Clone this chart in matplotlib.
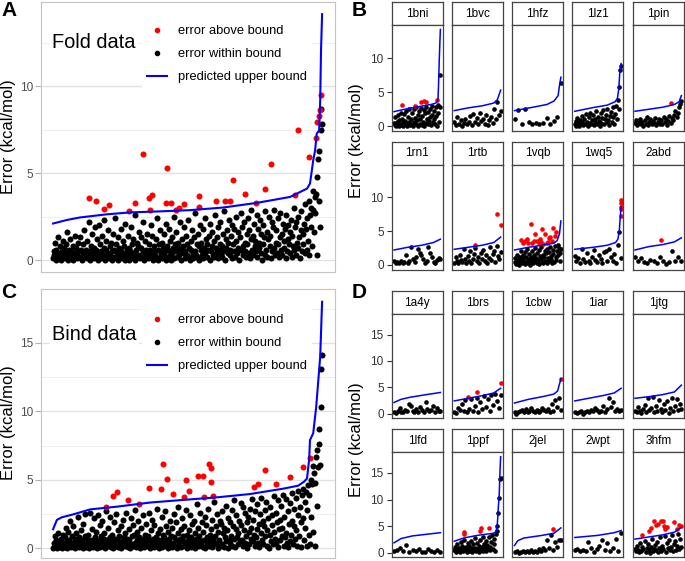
import numpy as np
import matplotlib
matplotlib.use("Agg")
import matplotlib.pyplot as plt
from matplotlib.lines import Line2D

plt.rcParams['font.family'] = ['Liberation Sans', 'DejaVu Sans']

# ---------------- data: panel A (fold data), x = rank in percent ----------------
a_black = [
    0.1, 0.5, 0.3, 1.0, 0.0, 0.6, 0.2, 1.3, 0.4, 0.1,
    0.8, 0.3, 0.0, 0.5, 1.1, 0.2, 0.7, 0.1, 0.4, 0.9,
    0.3, 1.6, 0.0, 0.2, 0.6, 1.2, 0.1, 0.5, 0.3, 0.8,
    0.0, 0.4, 1.4, 0.2, 0.7, 0.1, 0.3, 1.0, 0.5, 0.2,
    1.3, 0.1, 0.6, 0.0, 0.9, 0.3, 1.7, 0.4, 0.2, 0.6,
    0.1, 1.1, 0.3, 2.2, 0.5, 0.0, 0.8, 0.2, 1.5, 0.4,
    0.7, 0.1, 1.9, 0.3, 0.6, 1.2, 0.0, 0.4, 2.0, 0.2,
    0.9, 0.5, 0.1, 1.4, 0.3, 0.7, 2.3, 0.0, 0.6, 1.1,
    0.2, 0.4, 1.7, 0.1, 0.8, 0.3, 1.0, 0.5, 0.0, 1.5,
    0.6, 0.2, 2.4, 0.9, 0.1, 0.4, 1.3, 0.0, 0.7, 0.3,
    1.8, 0.5, 0.1, 1.1, 0.3, 0.8, 0.0, 2.1, 0.4, 0.6,
    0.2, 1.4, 0.7, 0.0, 0.5, 1.9, 0.3, 0.9, 0.1, 1.2,
    0.4, 0.0, 2.6, 0.6, 1.0, 0.2, 0.8, 1.6, 0.3, 0.1,
    0.7, 1.3, 0.2, 0.5, 2.2, 0.0, 0.4, 1.1, 0.6, 0.3,
    1.5, 0.1, 0.9, 0.3, 0.6, 2.0, 0.2, 1.4, 0.0, 0.5,
    0.8, 0.3, 1.2, 0.1, 2.4, 0.6, 0.0, 0.9, 1.7, 0.2,
    0.4, 1.0, 0.1, 0.7, 0.3, 1.5, 0.5, 2.1, 0.0, 0.8,
    0.2, 0.6, 1.8, 0.3, 1.1, 0.0, 0.4, 1.3, 0.7, 2.5,
    0.1, 0.9, 0.5, 1.6, 0.2, 0.7, 1.0, 0.3, 2.2, 0.6,
    0.0, 1.2, 0.4, 0.8, 1.9, 0.1, 0.5, 1.4, 0.3, 0.9,
    2.3, 0.2, 0.7, 0.0, 1.1, 0.6, 1.7, 0.4, 0.1, 1.3,
    0.5, 2.7, 0.3, 0.9, 0.2, 1.5, 0.8, 0.0, 2.0, 0.6,
    1.0, 0.3, 1.8, 0.1, 0.7, 2.4, 0.4, 1.2, 0.2, 0.9,
    0.6, 1.4, 0.0, 2.1, 0.5, 0.8, 1.6, 0.3, 1.1, 0.2,
    2.6, 0.7, 0.4, 1.3, 0.1, 1.9, 0.6, 0.9, 2.2, 0.3,
    0.8, 0.2, 1.5, 0.5, 2.8, 0.0, 1.2, 0.7, 1.7, 0.4,
    1.0, 2.3, 0.3, 0.6, 1.4, 0.1, 2.0, 0.9, 0.5, 1.8,
    0.2, 1.1, 2.5, 0.4, 0.7, 1.6, 0.0, 1.3, 2.7, 0.6,
    1.9, 0.3, 0.8, 2.2, 0.5, 1.0, 0.2, 1.5, 0.9, 2.4,
    0.4, 1.7, 0.1, 1.2, 2.9, 0.6, 1.4, 0.3, 2.1, 0.8,
    1.1, 0.5, 2.6, 0.2, 1.8, 0.7, 1.0, 2.3, 0.4, 1.5,
    0.0, 2.0, 0.9, 1.3, 0.3, 2.8, 0.6, 1.6, 0.2, 1.2,
    2.5, 0.8, 1.4, 0.1, 2.2, 0.5, 1.9, 0.7, 2.9, 0.3,
    1.0, 1.7, 0.4, 2.4, 0.9, 0.2, 1.3, 2.7, 0.6, 1.5,
    0.3, 2.1, 1.1, 0.7, 1.8, 0.1, 2.6, 0.5, 1.2, 2.0,
    0.9, 0.4, 1.6, 2.3, 0.2, 1.4, 0.8, 3.0, 0.6, 1.9,
    2.2, 0.3, 1.0, 0.7, 2.5, 1.3, 0.1, 1.7, 2.8, 0.5,
    1.5, 0.9, 2.1, 0.4, 3.2, 1.8, 0.6, 2.4, 1.1, 3.4,
    0.3, 2.6, 1.9, 3.0, 0.8, 2.9, 4.0, 1.6, 3.6, 2.7,
    3.8, 4.8, 0.3, 5.8, 3.4, 6.3, 1.9, 7.5, 8.7, 7.8,
]
a_red_x = [13.4, 16.0, 19.0, 20.8, 28.3, 30.5, 33.5, 35.7, 36.1, 36.8, 42.0, 42.4,
           43.9, 45.7, 46.8, 48.7, 54.3, 54.3, 60.6, 63.9, 65.8, 66.9, 71.4, 75.5,
           78.8, 81.0, 90.0, 91.1, 95.2, 97.8, 98.1, 98.9, 99.1, 99.6]
a_red_y = [3.59, 3.37, 2.93, 3.19, 2.83, 3.27, 6.08, 3.59, 2.89, 3.73, 3.27, 5.28,
           3.31, 2.87, 2.98, 3.21, 3.67, 3.06, 3.42, 3.40, 3.42, 4.63, 3.82, 3.29,
           4.11, 5.53, 3.73, 7.50, 5.93, 7.04, 7.93, 8.26, 8.64, 9.52]
a_bound_x = [0, 5, 10, 20, 28.6, 40, 50.9, 63.2, 75.8, 88.1, 94.4, 95.5, 96.2, 96.7,
             97.4, 98.0, 98.9, 99.3, 99.6, 100]
a_bound_y = [2.10, 2.30, 2.45, 2.63, 2.74, 2.80, 2.87, 3.02, 3.29, 3.63, 4.11, 4.40,
             5.16, 5.74, 6.31, 7.27, 7.46, 9.18, 12.05, 14.15]

# ---------------- data: panel C (bind data) ----------------
c_black = [
    0.0, 0.4, 0.1, 0.9, 0.2, 0.6, 0.0, 1.1, 0.3, 0.5,
    0.1, 0.7, 0.2, 0.0, 1.0, 0.4, 0.3, 0.8, 0.1, 1.5,
    0.5, 0.0, 1.2, 0.2, 0.6, 2.0, 0.3, 0.1, 0.9, 0.4,
    1.6, 0.2, 0.0, 0.7, 1.1, 0.3, 0.5, 2.3, 0.1, 0.8,
    0.4, 1.3, 0.2, 0.6, 0.0, 1.8, 0.3, 0.9, 2.5, 0.1,
    0.7, 0.3, 1.0, 0.0, 2.6, 0.5, 0.2, 1.4, 0.6, 0.1,
    2.2, 0.4, 0.8, 0.2, 1.2, 0.0, 2.4, 0.6, 0.3, 1.7,
    0.1, 0.9, 0.5, 2.0, 0.2, 0.7, 1.1, 0.0, 0.4, 2.7,
    0.6, 0.2, 1.5, 0.3, 0.8, 2.3, 0.1, 1.0, 0.5, 0.0,
    1.9, 0.4, 0.7, 0.2, 2.5, 0.6, 1.3, 0.1, 0.9, 0.3,
    0.0, 1.6, 0.5, 2.1, 0.3, 0.8, 0.2, 1.1, 2.6, 0.4,
    0.7, 0.1, 1.4, 0.6, 0.0, 2.2, 0.3, 0.9, 1.7, 0.2,
    1.0, 2.8, 0.4, 0.1, 1.2, 0.6, 2.0, 0.3, 0.8, 0.0,
    0.5, 1.5, 0.2, 2.4, 0.7, 0.1, 1.0, 0.4, 1.8, 0.6,
    0.2, 0.9, 2.6, 0.0, 0.5, 1.3, 0.3, 2.1, 0.7, 0.1,
    1.7, 0.4, 0.8, 0.2, 2.9, 0.6, 1.1, 0.0, 0.3, 1.4,
    0.6, 2.3, 0.1, 1.0, 0.4, 0.8, 2.7, 0.2, 1.6, 0.5,
    0.0, 1.2, 0.7, 0.3, 2.0, 0.9, 0.1, 1.5, 0.4, 2.5,
    0.8, 0.2, 1.9, 0.6, 0.0, 1.1, 3.0, 0.3, 0.7, 1.4,
    0.1, 2.2, 0.5, 0.9, 1.6, 0.2, 0.4, 2.8, 0.0, 1.0,
    0.6, 0.3, 1.3, 2.4, 0.1, 0.8, 1.8, 0.5, 0.2, 2.0,
    1.1, 0.0, 0.7, 0.4, 3.2, 1.5, 0.2, 0.9, 2.6, 0.3,
    0.5, 1.9, 0.1, 1.2, 0.6, 2.3, 0.0, 1.7, 0.4, 0.8,
    2.9, 0.2, 1.0, 0.5, 1.4, 0.1, 2.1, 0.7, 3.4, 0.3,
    0.9, 1.6, 0.4, 2.5, 0.0, 1.2, 0.6, 2.0, 0.2, 1.8,
    0.3, 2.7, 1.1, 0.1, 1.5, 0.8, 3.1, 0.5, 1.3, 0.0,
    2.2, 0.6, 1.9, 0.4, 0.9, 2.8, 0.2, 1.6, 0.7, 3.5,
    0.1, 1.4, 2.4, 0.8, 0.3, 1.1, 2.0, 0.5, 3.3, 1.7,
    0.6, 3.0, 0.2, 1.3, 2.6, 0.4, 0.9, 1.9, 0.0, 2.3,
    1.2, 0.3, 2.9, 0.7, 1.5, 3.6, 0.5, 2.1, 1.0, 0.2,
    2.7, 0.8, 1.4, 3.2, 0.4, 1.8, 0.1, 2.5, 1.1, 3.7,
    0.6, 2.0, 0.3, 1.6, 2.8, 0.9, 3.4, 0.2, 1.3, 2.2,
    0.0, 1.0, 3.0, 0.5, 2.4, 1.7, 0.3, 3.8, 1.2, 0.7,
    2.6, 0.4, 1.9, 0.1, 3.5, 1.4, 2.1, 0.6, 3.1, 0.9,
    1.5, 3.9, 0.2, 2.3, 0.8, 1.1, 3.6, 0.4, 2.7, 0.1,
    1.8, 0.5, 3.3, 1.0, 2.0, 4.0, 0.3, 1.6, 2.9, 0.7,
    3.7, 1.3, 0.2, 2.4, 4.2, 0.9, 3.0, 1.9, 0.1, 3.9,
    2.2, 4.3, 0.6, 3.4, 1.5, 4.1, 0.2, 2.8, 4.6, 1.0,
    3.9, 0.3, 5.0, 2.3, 4.7, 6.0, 1.2, 5.5, 0.2, 4.8,
    6.7, 3.1, 7.2, 5.9, 7.6, 8.7, 6.1, 10.3, 13.1, 14.1,
]
c_red_x = [19.7, 22.3, 23.8, 27.9, 32.0, 35.7, 40.1, 40.9, 42.4, 44.6, 48.7, 49.4,
           50.6, 53.9, 55.8, 56.1, 58.0, 58.7, 58.7, 59.5, 74.7, 76.2, 78.8, 82.9,
           88.1, 92.9, 95.5]
c_red_y = [3.04, 3.81, 4.08, 3.52, 3.24, 4.38, 4.33, 6.12, 5.03, 3.96, 3.72, 4.98,
           4.19, 5.28, 5.28, 3.72, 6.18, 5.83, 4.81, 3.80, 4.48, 4.72, 5.75, 4.66,
           5.18, 5.90, 6.56]
c_bound_x = [0, 1.4, 3.2, 7.4, 13.8, 23.8, 36.1, 48.3, 61.0, 73.2, 85.5, 91.1, 93.3,
             94.4, 95.2, 95.5, 96.7, 97.8, 99.3, 100]
c_bound_y = [1.39, 2.07, 2.26, 2.47, 2.84, 3.04, 3.34, 3.53, 3.72, 3.96, 4.35, 4.57,
             4.86, 5.10, 6.50, 7.90, 8.40, 10.30, 14.00, 18.00]

# ---------------- data: panel B facets (x = rank fraction) ----------------
b_names = ['1bni', '1bvc', '1hfz', '1lz1', '1pin', '1rn1', '1rtb', '1vqb', '1wq5', '2abd']

err_1bni = [0.5, 0.2, 1.3, 0.1, 0.7, 0.3, 1.6, 0.0, 0.9, 0.4, 2.0, 0.2, 1.1, 0.6, 0.1,
            1.8, 0.3, 0.8, 2.3, 0.5, 0.0, 1.4, 0.7, 2.6, 0.2, 1.0, 0.4, 1.9, 0.1, 2.5,
            0.6, 1.2, 0.3, 2.8, 0.9, 0.0, 1.6, 2.2, 0.4, 1.0, 2.7, 0.2, 1.5, 0.7, 2.4,
            0.1, 1.9, 0.5, 2.9, 1.1, 0.3, 2.1, 0.8, 1.4, 2.6, 0.2, 1.7, 3.0, 0.6, 2.3,
            1.0, 0.4, 2.8, 1.5, 0.1, 3.1, 2.0, 0.7, 2.9, 7.5]
red_1bni = [(0.18, 3.06), (0.45, 2.95), (0.59, 3.6), (0.64, 3.7), (0.68, 3.5), (0.93, 3.9)]
bnd_1bni = [(0, 2.15), (0.3, 2.6), (0.55, 2.9), (0.8, 3.2), (0.9, 3.4), (0.94, 3.7),
            (0.95, 4.2), (0.96, 6.0), (0.975, 9.5), (0.99, 12.5), (1.0, 14.2)]

err_1bvc = [0.6, 0.2, 1.3, 0.4, 0.9, 0.1, 0.5, 1.1, 0.3, 0.7, 1.5, 0.2, 1.8, 0.6, 1.2,
            0.3, 2.0, 0.8, 1.0, 0.4, 1.6, 0.2, 0.9, 1.3, 0.5, 2.5, 1.1, 3.6, 1.6, 2.2]
red_1bvc = []
bnd_1bvc = [(0, 2.3), (0.3, 2.7), (0.6, 3.0), (0.85, 3.4), (0.93, 3.9), (1.0, 5.3)]

err_1hfz = [1.0, 2.4, 0.3, 2.6, 0.6, 0.4, 0.5, 0.3, 0.5, 1.2, 0.3, 0.8, 1.3, 6.3]
red_1hfz = []
bnd_1hfz = [(0, 2.3), (0.4, 2.8), (0.7, 3.2), (0.85, 3.7), (0.94, 4.5), (0.97, 6.0), (1.0, 7.2)]

err_1lz1 = [0.3, 0.8, 0.1, 1.2, 0.5, 0.0, 0.9, 0.3, 1.5, 0.6, 0.2, 1.1, 0.4, 1.8, 0.7,
            0.1, 1.3, 0.5, 2.0, 0.3, 0.9, 1.6, 0.2, 1.1, 0.6, 2.2, 0.4, 1.4, 0.8, 0.1,
            1.9, 0.5, 1.2, 2.4, 0.3, 1.0, 1.7, 0.6, 2.6, 0.9, 0.2, 1.5, 2.1, 0.7, 1.3,
            2.8, 0.4, 1.8, 3.0, 1.1, 3.8, 2.6, 5.7, 8.2, 8.8]
red_1lz1 = []
bnd_1lz1 = [(0, 2.2), (0.4, 2.75), (0.7, 3.1), (0.87, 3.6), (0.92, 4.1), (0.95, 5.5),
            (0.97, 7.8), (1.0, 9.2)]

err_1pin = [0.5, 0.9, 0.2, 0.6, 1.1, 0.3, 0.7, 0.1, 0.9, 0.4, 1.3, 0.2, 0.6, 1.0, 0.3,
            0.8, 0.5, 1.2, 0.2, 0.7, 1.0, 0.4, 0.9, 0.3, 1.4, 0.6, 1.1, 0.2, 0.8, 1.5,
            0.5, 1.2, 0.9, 1.7, 2.2, 1.3, 2.0, 2.9, 3.3, 3.7]
red_1pin = [(0.77, 3.45)]
bnd_1pin = [(0, 2.2), (0.3, 2.5), (0.6, 2.8), (0.85, 3.2), (0.95, 3.6), (1.0, 4.5)]

err_1rn1 = [0.5, 0.2, 0.4, 0.3, 0.6, 0.2, 0.4, 1.5, 0.3, 0.6, 2.6, 0.9, 0.4, 1.1, 2.3,
            1.8, 1.4, 0.8, 0.3, 0.6, 2.6, 1.7, 1.2, 0.4, 0.2, 0.7, 1.0, 0.9]
red_1rn1 = []
bnd_1rn1 = [(0, 2.2), (0.3, 2.6), (0.6, 2.9), (0.85, 3.3), (1.0, 3.8)]

err_1rtb = [0.3, 1.1, 0.5, 0.2, 1.5, 0.7, 0.4, 2.4, 0.9, 0.3, 1.3, 0.6, 2.0, 0.2, 0.8,
            1.6, 2.5, 0.5, 1.1, 0.3, 1.8, 0.9, 2.2, 0.6, 1.4, 0.2, 1.0, 2.7, 0.7, 1.6,
            2.1, 0.4, 2.8, 1.3, 0.9, 1.9]
red_1rtb = [(0.45, 3.0), (0.93, 7.5), (1.0, 5.9)]
bnd_1rtb = [(0, 2.3), (0.3, 2.6), (0.6, 2.9), (0.85, 3.3), (1.0, 4.1)]

err_1vqb = [0.4, 1.0, 0.1, 0.7, 1.5, 0.3, 0.9, 0.0, 1.2, 0.5, 2.0, 0.2, 0.8, 1.4, 0.4,
            1.9, 0.1, 1.1, 0.6, 2.3, 0.3, 0.9, 1.6, 0.0, 1.2, 0.5, 2.1, 0.8, 0.2, 1.4,
            2.5, 0.6, 1.0, 0.3, 1.8, 0.7, 2.2, 0.1, 1.3, 0.9, 2.6, 0.4, 1.5, 0.2, 1.1,
            2.0, 0.6, 1.7, 0.3, 2.4, 1.0, 0.5, 1.9, 2.7, 0.8, 1.3, 0.2, 2.2, 1.6, 0.4,
            2.8, 1.2, 0.7, 2.0, 3.0, 1.5, 2.5, 0.5, 1.7, 2.3]
red_1vqb = [(0.13, 3.7), (0.18, 3.3), (0.23, 3.5), (0.27, 3.8), (0.30, 3.2), (0.35, 6.1),
            (0.38, 3.3), (0.41, 3.6), (0.45, 4.6), (0.48, 3.5), (0.52, 3.2), (0.55, 3.85),
            (0.58, 3.4), (0.60, 5.3), (0.62, 3.1), (0.66, 4.6), (0.69, 3.3), (0.73, 3.4),
            (0.74, 3.9), (0.77, 4.1), (0.80, 3.5), (0.84, 5.5), (0.88, 4.3), (0.90, 4.9)]
bnd_1vqb = [(0, 2.2), (0.3, 2.6), (0.6, 2.9), (0.85, 3.2), (0.92, 3.6), (0.97, 4.6), (1.0, 6.5)]

err_1wq5 = [1.3, 0.6, 1.0, 0.3, 2.3, 0.8, 0.4, 1.7, 0.5, 0.2, 1.1, 2.2, 0.7, 0.4, 1.4,
            0.9, 0.3, 1.9, 2.0, 0.6, 2.3, 1.2, 0.5, 1.6, 0.3, 3.0, 4.8, 1.0]
red_1wq5 = [(0.99, 7.2), (0.99, 8.2), (1.0, 8.6), (1.0, 9.1), (1.0, 9.6)]
bnd_1wq5 = [(0, 2.3), (0.4, 2.6), (0.7, 2.9), (0.88, 3.3), (0.93, 3.8), (0.96, 5.0),
            (0.98, 7.0), (1.0, 8.6)]

err_2abd = [1.2, 0.6, 1.0, 0.4, 0.3, 0.7, 0.5, 0.2, 1.2, 0.5, 0.1, 0.4, 2.1, 0.6, 1.1, 0.5]
red_2abd = [(0.55, 3.7)]
bnd_2abd = [(0, 2.2), (0.3, 2.7), (0.6, 3.0), (0.85, 3.4), (1.0, 4.0)]

# ---------------- data: panel D facets ----------------
d_names = ['1a4y', '1brs', '1cbw', '1iar', '1jtg', '1lfd', '1ppf', '2jel', '2wpt', '3hfm']

err_1a4y = [0.2, 0.1, 0.5, 1.1, 0.3, 0.2, 0.6, 0.4, 1.9, 1.4, 0.5, 0.3, 0.8, 0.2, 1.2,
            0.6, 0.3, 2.2, 0.9, 0.4, 0.7, 1.5, 0.3, 1.0, 0.5, 0.4]
red_1a4y = []
bnd_1a4y = [(0, 2.1), (0.15, 2.7), (0.35, 3.1), (0.7, 3.6), (1.0, 4.0)]

err_1brs = [0.3, 0.1, 1.0, 0.6, 1.9, 0.4, 2.6, 0.2, 0.9, 2.7, 0.5, 1.4, 3.0, 0.3, 2.2,
            0.8, 3.3, 1.2, 2.8, 0.4, 3.5, 1.6, 3.8, 2.4, 1.0, 3.6]
red_1brs = [(0.3, 3.2), (0.5, 4.1), (1.0, 5.8)]
bnd_1brs = [(0, 2.4), (0.3, 2.9), (0.6, 3.4), (0.85, 3.9), (1.0, 4.8)]

err_1cbw = [0.2, 0.0, 0.3, 0.4, 0.6, 0.2, 0.9, 0.3, 0.5, 1.0, 0.4, 0.2, 0.7, 0.3, 0.5,
            1.1, 0.6, 0.4, 0.8, 0.3, 1.8, 0.5, 2.5, 1.2, 3.0, 0.6]
red_1cbw = [(1.0, 6.6)]
bnd_1cbw = [(0, 2.0), (0.3, 2.7), (0.6, 3.2), (0.85, 3.7), (0.93, 4.3), (1.0, 6.6)]

err_1iar = [0.3, 0.1, 0.2, 0.4, 0.0, 0.3, 0.5, 0.2, 0.6, 0.4, 1.0, 0.7, 0.3, 0.5, 1.5,
            0.2, 0.8, 2.9, 1.2, 2.2, 0.5, 0.9, 0.4, 0.7]
red_1iar = []
bnd_1iar = [(0, 2.4), (0.3, 2.9), (0.6, 3.4), (0.85, 3.9), (1.0, 4.8)]

err_1jtg = [0.5, 0.2, 1.2, 0.4, 0.1, 0.8, 1.6, 0.3, 2.9, 0.6, 1.0, 3.2, 0.2, 1.4, 0.5,
            2.6, 0.9, 0.3, 1.8, 0.7, 2.4, 0.1, 1.1, 3.0, 0.4, 1.5, 2.7, 0.6, 1.9, 0.8]
red_1jtg = []
bnd_1jtg = [(0, 2.9), (0.3, 3.2), (0.6, 3.6), (0.85, 4.1), (1.0, 5.4)]

err_1lfd = [0.3, 0.5, 0.9, 0.4, 1.5, 0.2, 0.6, 0.3, 0.7, 0.2, 0.1, 0.8, 0.3, 0.2, 0.5, 0.1]
red_1lfd = []
bnd_1lfd = [(0, 1.9), (0.15, 2.7), (0.4, 3.2), (0.7, 3.5), (1.0, 3.8)]

err_1ppf = [0.5, 1.2, 0.2, 0.8, 1.7, 0.4, 1.0, 0.1, 2.1, 0.6, 1.4, 0.3, 0.9, 2.5, 0.5,
            1.1, 0.2, 1.8, 0.7, 1.3, 0.4, 2.3, 0.9, 0.1, 1.6, 0.6, 2.8, 1.0, 0.3, 1.9,
            0.8, 1.4, 0.2, 2.4, 0.6, 1.1, 3.0, 0.4, 1.7, 0.9, 2.2, 0.3, 1.5, 0.7, 2.9,
            1.2, 0.5, 2.0, 3.3, 0.8, 1.6, 2.6, 0.4, 3.5, 4.2, 5.0, 7.5, 10.3, 13.8, 14.1]
red_1ppf = [(0.2, 3.6), (0.22, 4.0), (0.55, 4.1), (0.57, 4.7), (0.75, 4.6)]
bnd_1ppf = [(0, 2.2), (0.2, 2.8), (0.5, 3.3), (0.85, 3.7), (0.9, 4.0), (0.93, 5.5),
            (0.95, 8.5), (0.97, 11.0), (0.985, 15.0), (1.0, 18.0)]

err_2jel = [0.1, 0.3, 0.0, 0.2, 0.4, 0.1, 0.3, 0.2, 0.5, 0.1, 0.4, 0.2, 0.8, 0.3, 1.0,
            0.5, 2.4, 0.9, 3.3, 0.6, 2.0, 1.2, 2.4, 2.5]
red_2jel = [(0.82, 4.5)]
bnd_2jel = [(0, 1.4), (0.07, 2.3), (0.2, 2.8), (0.6, 3.3), (0.85, 3.7), (1.0, 4.7)]

err_2wpt = [0.5, 0.8, 0.3, 0.6, 0.4, 2.1, 1.0, 0.2, 0.7, 1.3, 2.4, 0.5, 1.9, 0.3, 0.9,
            2.6, 0.4, 3.7]
red_2wpt = []
bnd_2wpt = [(0, 2.9), (0.5, 3.3), (0.85, 3.8), (1.0, 4.2)]

err_3hfm = [0.8, 0.3, 1.4, 0.6, 0.1, 1.9, 0.4, 1.1, 0.7, 2.3, 0.2, 0.9, 1.6, 0.5, 0.0,
            1.2, 2.6, 0.3, 0.8, 1.5, 0.6, 2.0, 0.2, 1.0, 2.9, 0.4, 1.3, 0.7, 3.1, 0.1,
            1.8, 0.9, 2.4, 0.5, 1.1, 3.3, 0.3, 1.6, 2.2, 0.6, 1.4, 3.5, 0.8, 2.7, 1.2]
red_3hfm = [(0.15, 3.4), (0.3, 4.2), (0.35, 4.6), (0.4, 6.0), (0.45, 5.2), (0.5, 5.5),
            (0.55, 5.9), (0.6, 6.0), (0.62, 5.0), (0.65, 4.4), (0.7, 4.9), (0.85, 5.8),
            (0.9, 4.5), (0.95, 5.2), (1.0, 5.0)]
bnd_3hfm = [(0, 2.6), (0.3, 3.0), (0.6, 3.4), (0.85, 3.9), (1.0, 4.8)]

b_err = [err_1bni, err_1bvc, err_1hfz, err_1lz1, err_1pin, err_1rn1, err_1rtb, err_1vqb, err_1wq5, err_2abd]
b_red = [red_1bni, red_1bvc, red_1hfz, red_1lz1, red_1pin, red_1rn1, red_1rtb, red_1vqb, red_1wq5, red_2abd]
b_bnd = [bnd_1bni, bnd_1bvc, bnd_1hfz, bnd_1lz1, bnd_1pin, bnd_1rn1, bnd_1rtb, bnd_1vqb, bnd_1wq5, bnd_2abd]
d_err = [err_1a4y, err_1brs, err_1cbw, err_1iar, err_1jtg, err_1lfd, err_1ppf, err_2jel, err_2wpt, err_3hfm]
d_red = [red_1a4y, red_1brs, red_1cbw, red_1iar, red_1jtg, red_1lfd, red_1ppf, red_2jel, red_2wpt, red_3hfm]
d_bnd = [bnd_1a4y, bnd_1brs, bnd_1cbw, bnd_1iar, bnd_1jtg, bnd_1lfd, bnd_1ppf, bnd_2jel, bnd_2wpt, bnd_3hfm]

# ---------------- figure ----------------
W, H = 685, 561
fig = plt.figure(figsize=(W / 100, H / 100), dpi=100)
RED, BLUE = '#ff0000', '#0000ff'


def px_axes(l, t, r, b):
    return fig.add_axes([l / W, 1 - b / H, (r - l) / W, (b - t) / H])


def main_panel(box, black, rx, ry, bx, by, ylim, major, minor, label, label_y, leg_top):
    ax = px_axes(*box)
    xs = np.linspace(0, 100, len(black))
    ax.set_xlim(-4.5, 104.8)
    ax.set_ylim(*ylim)
    for v in minor:
        ax.axhline(v, color='#ededed', lw=0.6, zorder=0)
    for v in major:
        ax.axhline(v, color='#e2e2e2', lw=1.0, zorder=0)
    ax.scatter(xs, black, s=19, c='black', lw=0, zorder=2)
    ax.scatter(rx, ry, s=19, c=RED, lw=0, zorder=2)
    ax.plot(bx, by, color=BLUE, lw=1.5, zorder=3)
    ax.set_xticks([])
    ax.set_yticks(major)
    ax.set_yticklabels([str(v) for v in major])
    ax.tick_params(axis='y', length=4, width=0.8, color='#b0b0b0', labelsize=8.5,
                   labelcolor='#4d4d4d', pad=1.8)
    for s in ax.spines.values():
        s.set_color('#c4c4c4')
        s.set_linewidth(0.8)
    handles = [Line2D([], [], ls='', marker='o', ms=3, color=RED),
               Line2D([], [], ls='', marker='o', ms=3, color='black'),
               Line2D([], [], color=BLUE, lw=1.5)]
    leg = ax.legend(handles, ['error above bound', 'error within bound', 'predicted upper bound'],
                    loc='upper left', bbox_to_anchor=(142 / W, 1 - leg_top / H),
                    bbox_transform=fig.transFigure, fontsize=9.3, frameon=True,
                    fancybox=False, framealpha=1, facecolor='white', edgecolor='none',
                    handlelength=1.55, handletextpad=0.85, labelspacing=0.85,
                    borderpad=0.4, borderaxespad=0)
    leg.set_zorder(5)
    fig.text(52 / W, 1 - label_y / H, label, fontsize=14.4, ha='left', va='center',
             bbox=dict(fc='white', ec='none', pad=1.5))
    return ax


def facet(l, rows, idx, name, err, red, bnd, ylim, ticks):
    st, sb, pb = rows[idx // 5]
    r = l + 51
    strip = px_axes(l, st, r, sb)
    strip.set_xticks([])
    strip.set_yticks([])
    strip.text(0.5, 0.48, name, ha='center', va='center', fontsize=8.5,
               transform=strip.transAxes)
    ax = px_axes(l, sb, r, pb)
    xs = np.linspace(0, 1, len(err))
    ax.set_xlim(-0.05, 1.05)
    ax.set_ylim(*ylim)
    ax.scatter(xs, err, s=11, c='black', lw=0, zorder=2)
    if red:
        ax.scatter([p[0] for p in red], [p[1] for p in red], s=11, c=RED, lw=0, zorder=2)
    ax.plot([p[0] for p in bnd], [p[1] for p in bnd], color=BLUE, lw=1.1, zorder=3)
    ax.set_xticks([])
    if idx % 5 == 0:
        ax.set_yticks(ticks)
        ax.set_yticklabels([str(v) for v in ticks])
        ax.tick_params(axis='y', length=3.5, width=0.8, color='#333333', labelsize=8.5,
                       labelcolor='#333333', pad=2.2)
    else:
        ax.set_yticks([])
    for a in (ax, strip):
        for s in a.spines.values():
            s.set_color('#444444')
            s.set_linewidth(0.9)


# panel A and C
main_panel((41, 2, 335, 272), a_black, a_red_x, a_red_y, a_bound_x, a_bound_y,
           (-0.69, 14.85), [0, 5, 10], [2.5, 7.5, 12.5], 'Fold data', 43, 20)
main_panel((41, 289, 335, 558), c_black, c_red_x, c_red_y, c_bound_x, c_bound_y,
           (-0.71, 18.93), [0, 5, 10, 15], [2.5, 7.5, 12.5, 17.5], 'Bind data', 334, 309)

# panel B and D facets
b_rows = [(2, 25, 131), (141.5, 164.5, 269.5)]
d_rows = [(291, 314, 417.5), (429, 452, 557)]
for i in range(10):
    left = 391.7 + (i % 5) * 60.25
    facet(left, b_rows, i, b_names[i], b_err[i], b_red[i], b_bnd[i], (-0.69, 14.85), [0, 5, 10])
    facet(left, d_rows, i, d_names[i], d_err[i], d_red[i], d_bnd[i], (-0.75, 18.9), [0, 5, 10, 15])

# axis titles and panel letters
for x, y in [(9, 137), (9, 423), (357, 141), (357, 440)]:
    fig.text(x / W, 1 - y / H, 'Error (kcal/mol)', rotation=90, fontsize=12,
             ha='center', va='center')
for letter, x, y in [('A', 1, 1), ('B', 352, 1), ('C', 1, 283), ('D', 352, 283)]:
    fig.text(x / W, 1 - y / H, letter, fontsize=15, fontweight='bold', ha='left', va='top')

fig.savefig('out.png', dpi=100)
